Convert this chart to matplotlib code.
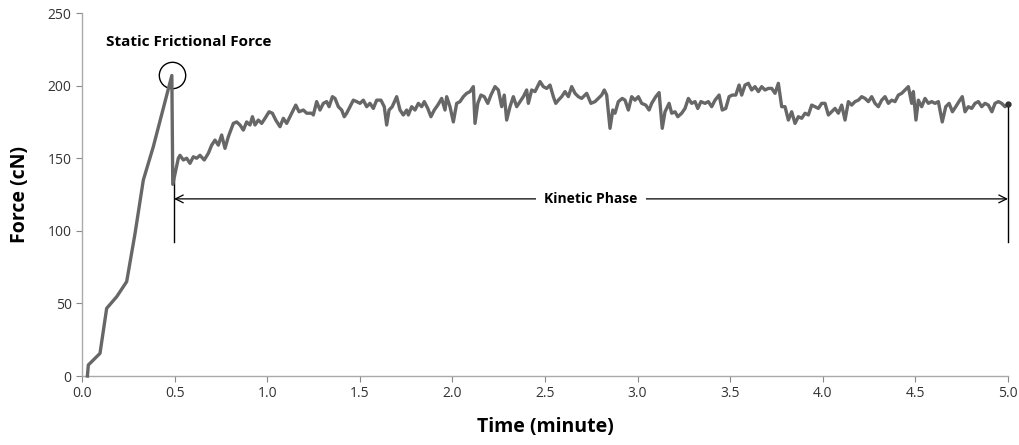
import numpy as np
import matplotlib.pyplot as plt

# Loading phase (static): time in minutes, force in cN
t_static = [0.029, 0.034, 0.097, 0.133, 0.187, 0.241, 0.286, 0.331, 0.358, 0.385, 0.485, 0.490]
f_static = [0.0, 7.6, 15.6, 46.6, 54.6, 65.0, 98.0, 135.0, 146.5, 158.0, 207.0, 132.0]

# Kinetic phase
t_kin = [
    0.520, 0.529, 0.547, 0.565, 0.583, 0.601, 0.619, 0.637, 0.660, 0.682,
    0.700, 0.718, 0.736, 0.754, 0.772, 0.790, 0.817, 0.835, 0.853, 0.871,
    0.889, 0.907, 0.920, 0.934, 0.952, 0.970, 0.988, 1.010, 1.028, 1.046,
    1.069, 1.087, 1.105, 1.123, 1.132, 1.154, 1.172, 1.195, 1.213, 1.240,
    1.249, 1.267, 1.285, 1.303, 1.321, 1.334, 1.352, 1.366, 1.384, 1.402,
    1.416, 1.429, 1.447, 1.465, 1.483, 1.501, 1.519, 1.537, 1.555, 1.573,
    1.591, 1.614, 1.632, 1.645, 1.658, 1.675, 1.699, 1.717, 1.735, 1.753,
    1.762, 1.780, 1.798, 1.816, 1.834, 1.848, 1.867, 1.884, 1.902, 1.921,
    1.942, 1.960, 1.969, 1.987, 2.005, 2.023, 2.041, 2.059, 2.077, 2.095,
    2.113, 2.122, 2.137, 2.154, 2.172, 2.191, 2.208, 2.230, 2.248, 2.266,
    2.280, 2.293, 2.311, 2.329, 2.347, 2.365, 2.383, 2.401, 2.410, 2.428,
    2.446, 2.473, 2.491, 2.509, 2.527, 2.545, 2.558, 2.572, 2.590, 2.608,
    2.626, 2.644, 2.662, 2.680, 2.698, 2.725, 2.748, 2.770, 2.788, 2.806,
    2.820, 2.833, 2.851, 2.866, 2.878, 2.896, 2.917, 2.932, 2.950, 2.968,
    2.986, 3.004, 3.022, 3.044, 3.062, 3.076, 3.098, 3.116, 3.133, 3.148,
    3.170, 3.184, 3.202, 3.217, 3.238, 3.256, 3.274, 3.292, 3.310, 3.325,
    3.342, 3.364, 3.382, 3.400, 3.418, 3.440, 3.457, 3.476, 3.494, 3.511,
    3.530, 3.548, 3.562, 3.580, 3.598, 3.616, 3.634, 3.652, 3.670, 3.688,
    3.706, 3.724, 3.742, 3.760, 3.778, 3.796, 3.814, 3.832, 3.850, 3.868,
    3.886, 3.904, 3.922, 3.940, 3.958, 3.976, 3.994, 4.012, 4.030, 4.048,
    4.066, 4.084, 4.102, 4.120, 4.138, 4.156, 4.174, 4.192, 4.210, 4.228,
    4.246, 4.264, 4.282, 4.300, 4.318, 4.336, 4.354, 4.372, 4.390, 4.408,
    4.426, 4.444, 4.462, 4.480, 4.489, 4.503, 4.516, 4.534, 4.552, 4.570,
    4.588, 4.606, 4.624, 4.645, 4.664, 4.682, 4.700, 4.718, 4.735, 4.753,
    4.768, 4.786, 4.804, 4.822, 4.840, 4.858, 4.876, 4.894, 4.913, 4.930,
    4.948, 4.966, 4.984, 5.000,
]
f_kin = [
    150.0, 152.0, 148.8, 150.0, 146.5, 151.0, 150.0, 152.0, 148.8, 153.4,
    159.0, 162.5, 159.0, 166.0, 156.8, 164.8, 174.0, 175.0, 172.9, 169.4,
    175.0, 172.9, 178.6, 172.9, 176.3, 174.0, 177.5, 182.0, 181.0, 176.3,
    171.7, 177.5, 174.0, 178.6, 181.0, 186.6, 182.0, 183.2, 181.0, 181.0,
    179.8, 189.0, 183.2, 187.8, 189.0, 185.5, 192.4, 191.2, 185.5, 183.2,
    178.6, 181.0, 185.5, 190.0, 189.0, 187.8, 190.0, 185.5, 187.8, 184.3,
    190.0, 190.0, 185.5, 172.9, 183.2, 185.5, 192.4, 183.2, 179.8, 183.2,
    179.8, 185.5, 183.2, 187.8, 185.5, 189.0, 184.3, 178.6, 183.2, 186.6,
    191.2, 183.2, 192.4, 185.5, 175.0, 187.8, 189.0, 192.4, 194.7, 195.9,
    199.3, 174.0, 187.8, 193.5, 192.4, 187.8, 193.5, 199.3, 197.0, 185.5,
    193.5, 176.3, 185.5, 192.4, 185.5, 189.0, 192.4, 197.0, 187.8, 197.0,
    195.9, 202.8, 199.3, 198.1, 200.4, 192.4, 187.8, 190.0, 192.4, 195.9,
    192.4, 199.3, 194.7, 192.4, 191.2, 194.7, 187.8, 189.0, 191.2, 193.5,
    197.0, 193.5, 170.6, 183.2, 181.0, 189.0, 191.2, 190.0, 183.2, 192.4,
    190.0, 192.4, 187.8, 186.6, 183.2, 187.8, 192.4, 195.2, 170.6, 182.0,
    187.8, 181.0, 182.0, 178.6, 181.0, 184.3, 191.2, 187.8, 189.0, 184.3,
    189.0, 187.8, 189.0, 185.5, 190.0, 193.5, 183.2, 184.3, 192.4, 193.5,
    193.5, 200.4, 193.5, 200.4, 201.6, 197.0, 199.3, 195.9, 199.3, 197.0,
    198.1, 198.1, 194.7, 201.6, 185.5, 185.5, 176.3, 182.0, 174.0, 178.6,
    177.5, 181.0, 179.8, 186.6, 185.5, 184.3, 187.8, 187.8, 179.8, 182.0,
    184.3, 181.0, 186.6, 176.3, 189.0, 186.6, 189.0, 190.0, 192.4, 191.2,
    189.0, 192.4, 187.8, 185.5, 190.0, 192.4, 187.8, 190.0, 189.0, 193.5,
    194.7, 197.0, 199.3, 187.8, 195.9, 176.3, 190.0, 185.5, 191.2, 187.8,
    189.0, 187.8, 189.0, 175.0, 185.5, 187.8, 182.0, 185.5, 189.0, 192.4,
    182.0, 185.5, 184.3, 187.8, 189.0, 185.5, 187.8, 186.6, 182.0, 187.8,
    189.0, 187.8, 185.5, 187.3,
]

x_ticks = [0.0, 0.5, 1.0, 1.5, 2.0, 2.5, 3.0, 3.5, 4.0, 4.5, 5.0]
y_ticks = [0, 50, 100, 150, 200, 250]

plt.rcParams["font.family"] = ["Open Sans", "DejaVu Sans"]

fig = plt.figure(figsize=(10.19, 4.45), dpi=100)
ax = fig.add_axes([0.0805, 0.155, 0.9087, 0.8157])

t_all = t_static + t_kin
f_all = f_static + f_kin
ax.plot(t_all, f_all, color="#676767", linewidth=2.4, solid_joinstyle="round",
        clip_on=False, zorder=3)
ax.plot(t_kin[-1], f_kin[-1], "o", color="#333333", markersize=3.5, clip_on=False,
        zorder=4)

# static peak marker
ax.plot(t_static[-2], f_static[-2], "o", markersize=19, markerfacecolor="none",
        markeredgecolor="black", markeredgewidth=1.0)
ax.text(0.578, 230, "Static Frictional Force", ha="center", va="center",
        fontsize=11, fontweight="bold")

# kinetic phase span
t0, t1, y_arrow = 0.497, 5.0, 122
ax.plot([t0, t0], [92, 136], color="black", linewidth=1.0)
ax.plot([t1, t1], [92, f_kin[-1]], color="black", linewidth=1.0, clip_on=False)
ax.annotate("", xy=(t0, y_arrow), xytext=(t1, y_arrow),
            arrowprops=dict(arrowstyle="<->", color="black", lw=0.9,
                            shrinkA=0, shrinkB=0, mutation_scale=14))
ax.text((t0 + t1) / 2, y_arrow, "Kinetic Phase", ha="center", va="center",
        fontsize=10, fontweight="bold",
        bbox=dict(facecolor="white", edgecolor="none", pad=6))

ax.set_xlim(0, 5)
ax.set_ylim(0, 250)
ax.set_xticks(x_ticks)
ax.set_xticklabels([f"{v:.1f}" for v in x_ticks])
ax.set_yticks(y_ticks)
ax.tick_params(axis="both", labelsize=10, colors="#888888", labelcolor="#333333",
               length=4, width=0.8)
for side in ["top", "right"]:
    ax.spines[side].set_visible(False)
for side in ["left", "bottom"]:
    ax.spines[side].set_color("#aaaaaa")
    ax.spines[side].set_linewidth(1.0)

ax.set_xlabel("Time (minute)", fontsize=14, fontweight="bold", labelpad=11)
ax.set_ylabel("Force (cN)", fontsize=14, fontweight="bold", labelpad=13)

fig.savefig("out.png", dpi=100)
